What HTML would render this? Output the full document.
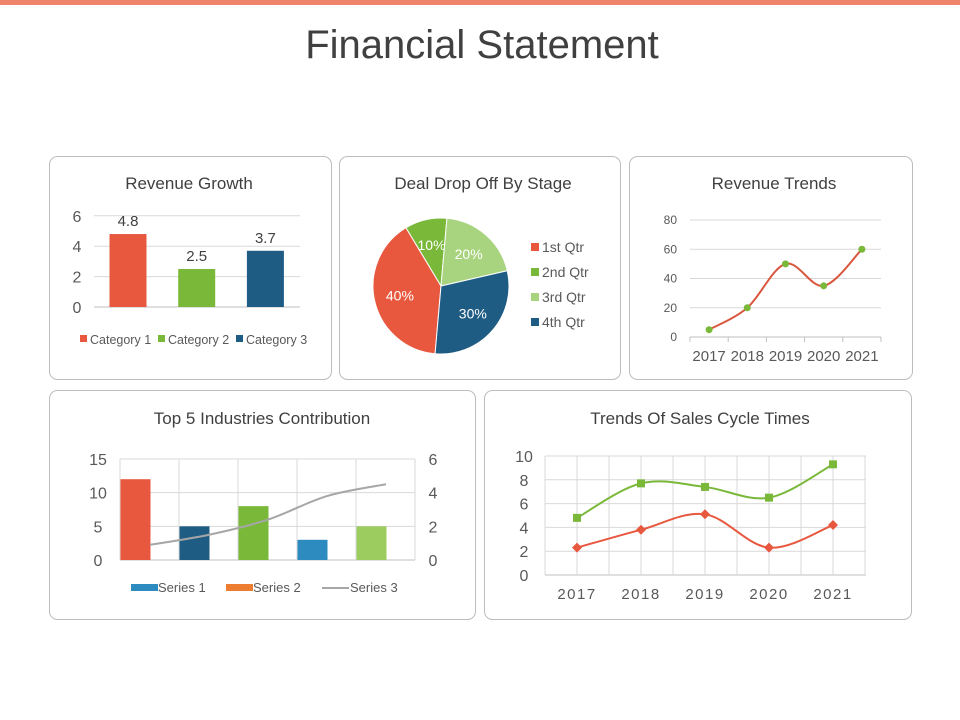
<!DOCTYPE html>
<html><head><meta charset="utf-8"><style>
body{margin:0;width:960px;height:720px;background:#fff;font-family:"Liberation Sans",sans-serif;overflow:hidden}
svg{display:block}
</style></head><body>
<svg width="960" height="720" id="root" font-family="Liberation Sans, sans-serif">
<rect x="0" y="0" width="960" height="5" fill="#f0836c"/>
<text x="482" y="58" font-size="40" fill="#404040" text-anchor="middle">Financial Statement</text>
<g fill="none" stroke="#bdbdbd" stroke-width="1">
<rect x="49.5" y="156.5" width="282" height="223" rx="8"/>
<rect x="339.5" y="156.5" width="281" height="223" rx="8"/>
<rect x="629.5" y="156.5" width="283" height="223" rx="8"/>
<rect x="49.5" y="390.5" width="426" height="229" rx="8"/>
<rect x="484.5" y="390.5" width="427" height="229" rx="8"/>
</g>
<g fill="#404040" font-size="17" text-anchor="middle">
<text x="189" y="189">Revenue Growth</text>
<text x="483" y="189">Deal Drop Off By Stage</text>
<text x="774" y="189">Revenue Trends</text>
<text x="262" y="424">Top 5 Industries Contribution</text>
<text x="700" y="424">Trends Of Sales Cycle Times</text>
</g>
<g id="c1"></g><g id="c2"></g><g id="c3"></g><g id="c4"></g><g id="c5"></g>
</svg>
<script>
// Revenue Growth
const rgCategories=["Category 1","Category 2","Category 3"];
const rgValues=[4.8,2.5,3.7];
const rgTicks=[0,2,4,6];
// Deal drop
const pieLabels=["1st Qtr","2nd Qtr","3rd Qtr","4th Qtr"];
const pieValues=[40,10,20,30];
// Revenue trends
const rtYears=["2017","2018","2019","2020","2021"];
const rtValues=[5,20,50,35,60];
const rtTicks=[0,20,40,60,80];
// Industries
const indBars=[12,5,8,3,5];
const indLine=[0.9,1.5,2.4,3.8,4.5];
const indLeftTicks=[0,5,10,15];
const indRightTicks=[0,2,4,6];
// Sales cycle
const scYears=["2017","2018","2019","2020","2021"];
const scGreen=[4.8,7.7,7.4,6.5,9.3];
const scRed=[2.3,3.8,5.1,2.3,4.2];
const scTicks=[0,2,4,6,8,10];

const NS="http://www.w3.org/2000/svg";
function mk(parent,tag,attrs,txt){const e=document.createElementNS(NS,tag);for(const k in attrs)e.setAttribute(k,attrs[k]);if(txt!==undefined)e.textContent=txt;parent.appendChild(e);return e;}
function smooth(pts){let d="M"+pts[0][0]+","+pts[0][1];for(let i=0;i<pts.length-1;i++){const p0=pts[i-1]||pts[i],p1=pts[i],p2=pts[i+1],p3=pts[i+2]||p2;const t=0.17*1.0;const c1=[p1[0]+(p2[0]-p0[0])*t,p1[1]+(p2[1]-p0[1])*t];const c2=[p2[0]-(p3[0]-p1[0])*t,p2[1]-(p3[1]-p1[1])*t];d+=" C"+c1+" "+c2+" "+p2;}return d;}
const RED="#e8583f",GREEN="#7ab83a",DBLUE="#1f5c84",LGREEN="#a9d47f",GRID="#d9d9d9",TXT="#595959";

// Chart 1
(function(){const g=document.getElementById('c1');

const y=v=>307-v*15.2, x0=94, cw=68.7, colors=[RED,GREEN,DBLUE];
rgTicks.forEach(t=>{const l=mk(g,'line',{x1:x0,x2:300,y1:y(t),y2:y(t),stroke:t===0?"#bfbfbf":GRID});

const tx=mk(g,'text',{x:77,y:y(t)+6,'font-size':16,fill:TXT,'text-anchor':'middle'},t);
});
rgValues.forEach((v,i)=>{const bx=x0+i*cw+15.5;
const r=mk(g,'rect',{x:bx,y:y(v),width:37,height:y(0)-y(v),fill:colors[i]});

const t=mk(g,'text',{x:bx+18.5,y:y(v)-8,'font-size':15,fill:"#404040",'text-anchor':'middle'},v.toFixed(1));
});
let lx=[80,158,236];
rgCategories.forEach((c,i)=>{const s=mk(g,'rect',{x:lx[i],y:335,width:7,height:7,fill:colors[i]});

const t=mk(g,'text',{x:lx[i]+10,y:344,'font-size':12.5,fill:TXT},c);
});
})();

// Chart 2 pie
(function(){const g=document.getElementById('c2');

const cx=441,cy=286,r=68,colors=[RED,GREEN,LGREEN,DBLUE];
const total=pieValues.reduce((a,b)=>a+b,0);let a=185;
const lbl=[[396,302],[429,240],[474,255],[477,326]];
pieValues.forEach((v,i)=>{const sw=v/total*360;const a1=a*Math.PI/180,a2=(a+sw)*Math.PI/180;
const p1=[cx+r*Math.sin(a1),cy-r*Math.cos(a1)],p2=[cx+r*Math.sin(a2),cy-r*Math.cos(a2)];
const p=mk(g,'path',{d:`M${cx},${cy} L${p1} A${r},${r} 0 ${sw>180?1:0} 1 ${p2} Z`,fill:colors[i],stroke:"#fff",'stroke-width':1});

const m=(a+sw/2)*Math.PI/180, lr=r*0.62;
const t=mk(g,'text',{x:cx+lr*Math.sin(m),y:cy-lr*Math.cos(m)+5,'font-size':14,fill:"#fff",'text-anchor':'middle'},v+"%");

a+=sw;});
pieLabels.forEach((c,i)=>{const yy=248+i*25;
const s=mk(g,'rect',{x:531,y:yy-5,width:8,height:8,fill:colors[i]});

const t=mk(g,'text',{x:542,y:yy+4,'font-size':14,fill:TXT},c);
});
})();

// Chart 3
(function(){const g=document.getElementById('c3');

const y=v=>337-v*1.4625, x0=690, cw=38.2;
rtTicks.forEach(t=>{const l=mk(g,'line',{x1:x0,x2:881,y1:y(t),y2:y(t),stroke:t===0?"#bfbfbf":GRID});

const tx=mk(g,'text',{x:677,y:y(t)+4,'font-size':12,fill:TXT,'text-anchor':'end'},t);
});
for(let i=0;i<=rtYears.length;i++){const l=mk(g,'line',{x1:x0+i*cw,x2:x0+i*cw,y1:337,y2:342,stroke:"#bfbfbf"});
}
rtYears.forEach((c,i)=>{const t=mk(g,'text',{x:x0+(i+0.5)*cw,y:361,'font-size':15,fill:TXT,'text-anchor':'middle'},c);
});
const pts=rtValues.map((v,i)=>[x0+(i+0.5)*cw,y(v)]);
const p=mk(g,'path',{d:smooth(pts),fill:"none",stroke:"#d9573e",'stroke-width':2});

pts.forEach(q=>{const c=mk(g,'circle',{cx:q[0],cy:q[1],r:3.5,fill:GREEN});
});
})();

// Chart 4
(function(){const g=document.getElementById('c4');

const yl=v=>560-v*(101/15), yr=v=>560-v*(101/6), x0=120, cw=59;
const colors=[RED,DBLUE,GREEN,"#2e8bc0","#9ccc5f"];
const ext=[0,5,10,15];
ext.forEach(t=>{const l=mk(g,'line',{x1:x0,x2:415,y1:yl(t),y2:yl(t),stroke:t===0?"#bfbfbf":GRID});
});
for(let i=0;i<=5;i++){const l=mk(g,'line',{x1:x0+i*cw,x2:x0+i*cw,y1:yl(15),y2:560,stroke:GRID});
}
indLeftTicks.forEach(t=>{const tx=mk(g,'text',{x:98,y:yl(t)+6,'font-size':16,fill:TXT,'text-anchor':'middle'},t);
});
indRightTicks.forEach(t=>{const tx=mk(g,'text',{x:433,y:yr(t)+6,'font-size':16,fill:TXT,'text-anchor':'middle'},t);
});
indBars.forEach((v,i)=>{const r=mk(g,'rect',{x:x0+i*cw+0.5,y:yl(v),width:30,height:560-yl(v),fill:colors[i]});
});
const pts=indLine.map((v,i)=>[x0+i*cw+30,yr(v)]);
const p=mk(g,'path',{d:smooth(pts),fill:"none",stroke:"#a6a6a6",'stroke-width':2});

const le=[[131,"#2e8bc0","Series 1"],[226,"#ed7d31","Series 2"]];
le.forEach(e=>{const s=mk(g,'rect',{x:e[0],y:584,width:27,height:7,fill:e[1]});

const t=mk(g,'text',{x:e[0]+27,y:592,'font-size':13,fill:TXT},e[2]);
});
const ll=mk(g,'line',{x1:322,x2:349,y1:588,y2:588,stroke:"#a6a6a6",'stroke-width':2});

const t3=mk(g,'text',{x:350,y:592,'font-size':13,fill:TXT},"Series 3");

})();

// Chart 5
(function(){const g=document.getElementById('c5');

const y=v=>575-v*11.9, x0=545, cw=64;
scTicks.forEach(t=>{const l=mk(g,'line',{x1:x0,x2:866,y1:y(t),y2:y(t),stroke:t===0?"#bfbfbf":GRID});

const tx=mk(g,'text',{x:524,y:y(t)+6,'font-size':16,fill:TXT,'text-anchor':'middle'},t);
});
for(let i=0;i<=10;i++){const l=mk(g,'line',{x1:x0+i*cw/2,x2:x0+i*cw/2,y1:y(10),y2:575,stroke:GRID});
}
scYears.forEach((c,i)=>{const t=mk(g,'text',{x:x0+(i+0.5)*cw,y:599,'font-size':15,fill:TXT,'text-anchor':'middle','letter-spacing':1.5},c);
});
const pg=scGreen.map((v,i)=>[x0+(i+0.5)*cw,y(v)]);
const pr=scRed.map((v,i)=>[x0+(i+0.5)*cw,y(v)]);
const lg=mk(g,'path',{d:smooth(pg),fill:"none",stroke:GREEN,'stroke-width':2});

const lr=mk(g,'path',{d:smooth(pr),fill:"none",stroke:RED,'stroke-width':2});

pg.forEach(q=>{const s=mk(g,'rect',{x:q[0]-4,y:q[1]-4,width:8,height:8,fill:GREEN});
});
pr.forEach(q=>{const s=mk(g,'path',{d:`M${q[0]},${q[1]-5} L${q[0]+5},${q[1]} L${q[0]},${q[1]+5} L${q[0]-5},${q[1]} Z`,fill:RED});
});
})();
</script>
</body></html>
